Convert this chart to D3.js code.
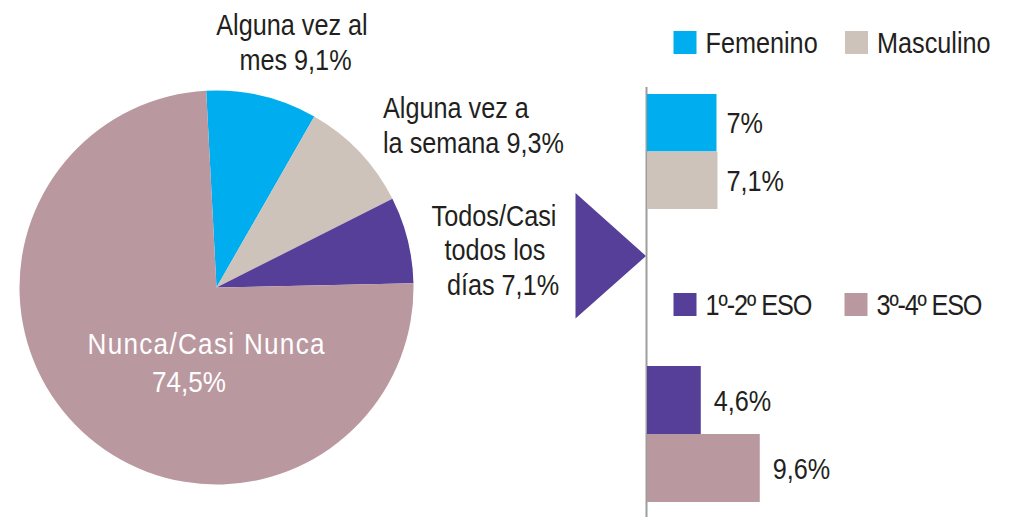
<!DOCTYPE html>
<html>
<head>
<meta charset="utf-8">
<script src="https://cdn.jsdelivr.net/npm/d3@7"></script>
<style>
  html, body { margin: 0; padding: 0; background: #fff; }
  svg { display: block; }
  text { font-family: "Liberation Sans", Arial, sans-serif; fill: #231F20; }
</style>
</head>
<body>
<svg id="chart" width="1017" height="517"></svg>
<script>
// ---- data ----
const pieCategories = ["Alguna vez al mes", "Alguna vez a la semana", "Todos/Casi todos los días", "Nunca/Casi Nunca"];
const pieValues = [9.1, 9.3, 7.1, 74.5];
const pieColors = ["#00AEEF", "#CDC3BA", "#563F98", "#BA989F"];

const sexCategories = ["Femenino", "Masculino"];
const sexValues = [7.0, 7.1];
const sexLabels = ["7%", "7,1%"];
const sexColors = ["#00AEEF", "#CDC3BA"];

const courseCategories = ["1º-2º ESO", "3º-4º ESO"];
const courseValues = [4.6, 9.6];
const courseLabels = ["4,6%", "9,6%"];
const courseColors = ["#563F98", "#BA989F"];

// ---- drawing ----
const svg = d3.select("#chart");
const fs = 29;

function txt(parent, t, x, y, anchor, fill, sx, len) {
  const s = sx || 0.87;
  const el = parent.append("text")
    .attr("transform", `translate(${x},${y}) scale(${s},1)`)
    .attr("text-anchor", anchor || "start")
    .attr("font-size", fs)
    .style("fill", fill || "#231F20")
    .text(t);
  if (len) el.attr("textLength", len / s).attr("lengthAdjust", "spacing");
  return el;
}

// Pie
const cx = 216.5, cy = 287.5, r = 197;
const startA = -3 * Math.PI / 180;
const pie = d3.pie().sort(null).value(d => d)
  .startAngle(startA).endAngle(startA + 2 * Math.PI);
const arc = d3.arc().innerRadius(0).outerRadius(r);
const pg = svg.append("g").attr("transform", `translate(${cx},${cy})`);
pg.selectAll("path").data(pie(pieValues)).join("path")
  .attr("d", arc)
  .attr("fill", (d, i) => pieColors[i]);

// Pie labels
txt(svg, "Alguna vez al", 292, 35, "middle");
txt(svg, "mes  9,1%", 295.5, 70, "middle");
txt(svg, "Alguna vez a", 383, 118, "start");
txt(svg, "la semana 9,3%", 383, 153, "start");
txt(svg, "Todos/Casi", 494, 226, "middle");
txt(svg, "todos los", 495, 260, "middle");
txt(svg, "días  7,1%", 503, 295, "middle");
txt(svg, "Nunca/Casi Nunca", 87.5, 354, "start", "#fff", 0.9, 237);
txt(svg, "74,5%", 152, 392, "start", "#fff", 0.9);

// Triangle arrow
svg.append("path")
  .attr("d", "M575.5,193 L646,256 L575.5,318.5 Z")
  .attr("fill", "#563F98");

// Axis line
const axisX = 646.5;
svg.append("line")
  .attr("x1", axisX).attr("x2", axisX)
  .attr("y1", 87).attr("y2", 517)
  .attr("stroke", "#9D9D9D").attr("stroke-width", 2);

// Top group (sex)
const xTop = d3.scaleLinear().domain([0, 10]).range([0, 100]);
const yTop = d3.scaleBand().domain(sexCategories).range([94, 209]).padding(0);
const tg = svg.append("g");
tg.selectAll("rect").data(sexValues).join("rect")
  .attr("x", axisX + 0.5)
  .attr("y", (d, i) => yTop(sexCategories[i]))
  .attr("width", d => xTop(d) - 0.5)
  .attr("height", yTop.bandwidth())
  .attr("fill", (d, i) => sexColors[i]);
sexValues.forEach((d, i) => {
  txt(tg, sexLabels[i], axisX + xTop(7) + 10,
      yTop(sexCategories[i]) + yTop.bandwidth() / 2 + 10.5, "start");
});

// Bottom group (course)
const xBot = d3.scaleLinear().domain([0, 10]).range([0, 118]);
const yBot = d3.scaleBand().domain(courseCategories).range([366, 502]).padding(0);
const bg = svg.append("g");
bg.selectAll("rect").data(courseValues).join("rect")
  .attr("x", axisX + 0.5)
  .attr("y", (d, i) => yBot(courseCategories[i]))
  .attr("width", d => xBot(d) - 0.5)
  .attr("height", yBot.bandwidth())
  .attr("fill", (d, i) => courseColors[i]);
courseValues.forEach((d, i) => {
  txt(bg, courseLabels[i], axisX + xBot(d) + 13,
      yBot(courseCategories[i]) + yBot.bandwidth() / 2 + 10.5, "start");
});

// Legends
function legend(items, colors, y, xs, lens) {
  items.forEach((t, i) => {
    svg.append("rect")
      .attr("x", xs[i]).attr("y", y)
      .attr("width", 23).attr("height", 23)
      .attr("fill", colors[i]);
    txt(svg, t, xs[i] + 32, y + 22, "start", null, 0.87, lens ? lens[i] : null);
  });
}
legend(sexCategories, sexColors, 31, [673.5, 845]);
legend(courseCategories, courseColors, 293, [673.5, 844.5], [107, 106]);
</script>
</body>
</html>
